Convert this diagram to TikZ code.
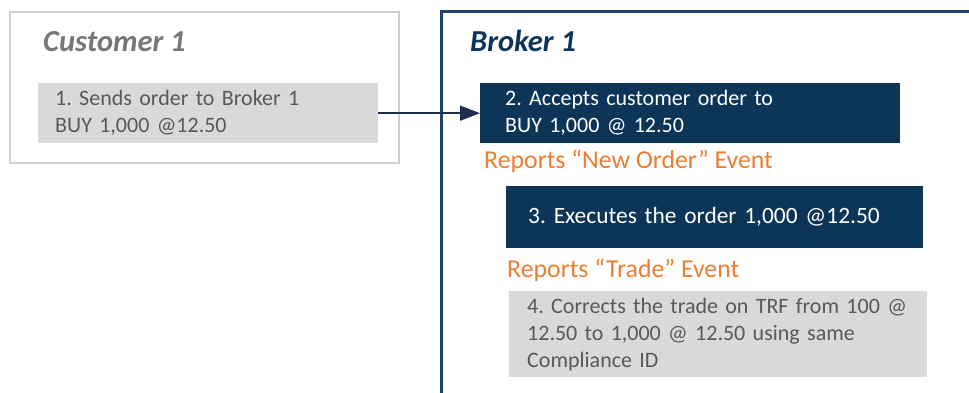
\documentclass[tikz,border=0pt]{standalone}
\usepackage{fontspec}
\setmainfont{Carlito}
\frenchspacing
\usetikzlibrary{arrows.meta}
\definecolor{navy}{HTML}{0D3558}
\definecolor{brokerline}{HTML}{1F4266}
\definecolor{lightgray}{HTML}{D9D9D9}
\definecolor{txtgray}{HTML}{595959}
\definecolor{headgray}{HTML}{767676}
\definecolor{orangetxt}{HTML}{ED7D31}
\definecolor{framegray}{HTML}{D0D0D0}
\definecolor{arrowcol}{HTML}{1F2D4F}
\begin{document}
\begin{tikzpicture}[x=1pt,y=-1pt,
  bodytext/.style={font=\fontsize{22}{27}\selectfont\frenchspacing},
  graybox/.style={bodytext, fill=lightgray, text=txtgray, anchor=north west, align=left, inner ysep=0pt},
  navybox/.style={bodytext, fill=navy, text=white, anchor=north west, align=left, inner ysep=0pt},
  heading/.style={font=\fontsize{30.5}{34}\selectfont\bfseries\itshape, anchor=base west, inner sep=0pt},
  eventtext/.style={font=\fontsize{25.8}{30}\selectfont, text=orangetxt, anchor=base west, inner sep=0pt}
]
\useasboundingbox (0,0) rectangle (969,393);
% Customer frame
\node[draw=framegray, line width=2pt, minimum width=389pt, minimum height=151pt, anchor=north west, inner sep=0pt] (custframe) at (9,11) {};
\node[heading, text=headgray] (custtitle) at (43,52) {Customer 1};
\node[graybox, minimum width=340pt, minimum height=60pt, inner xsep=17pt, text width=306pt] (step1) at (38,83) {1. Sends order to Broker 1\\BUY 1,000 @12.50};
% Broker frame
\coordinate (bl) at (441,400);
\coordinate (tl) at (441,12);
\coordinate (tr) at (975,12);
\draw[brokerline, line width=3pt] (bl) -- (tl) -- (tr);
\node[heading, text=navy] (brokertitle) at (470,52) {Broker 1};
\node[navybox, minimum width=420pt, minimum height=60pt, inner xsep=25pt, text width=370pt] (step2) at (480,83) {2. Accepts customer order to\\BUY 1,000 @ 12.50};
\node[eventtext] (ev1) at (484,168) {Reports “New Order” Event};
\node[navybox, font=\fontsize{23.4}{28}\selectfont, minimum width=417pt, minimum height=62pt, inner xsep=22pt, text width=373pt] (step3) at (506,186) {3. Executes the order 1,000 @12.50};
\node[eventtext] (ev2) at (507,277) {Reports “Trade” Event};
\node[graybox, minimum width=418pt, minimum height=86pt, inner xsep=18pt, text width=382pt] (step4) at (509,291) {4. Corrects the trade on TRF from 100 @\\12.50 to 1,000 @ 12.50 using same\\Compliance ID};
% Arrow
\draw[arrowcol, line width=1.5pt, -{Triangle[length=20pt,width=15pt]}] (step1.east) -- (step2.west);
\end{tikzpicture}
\end{document}
